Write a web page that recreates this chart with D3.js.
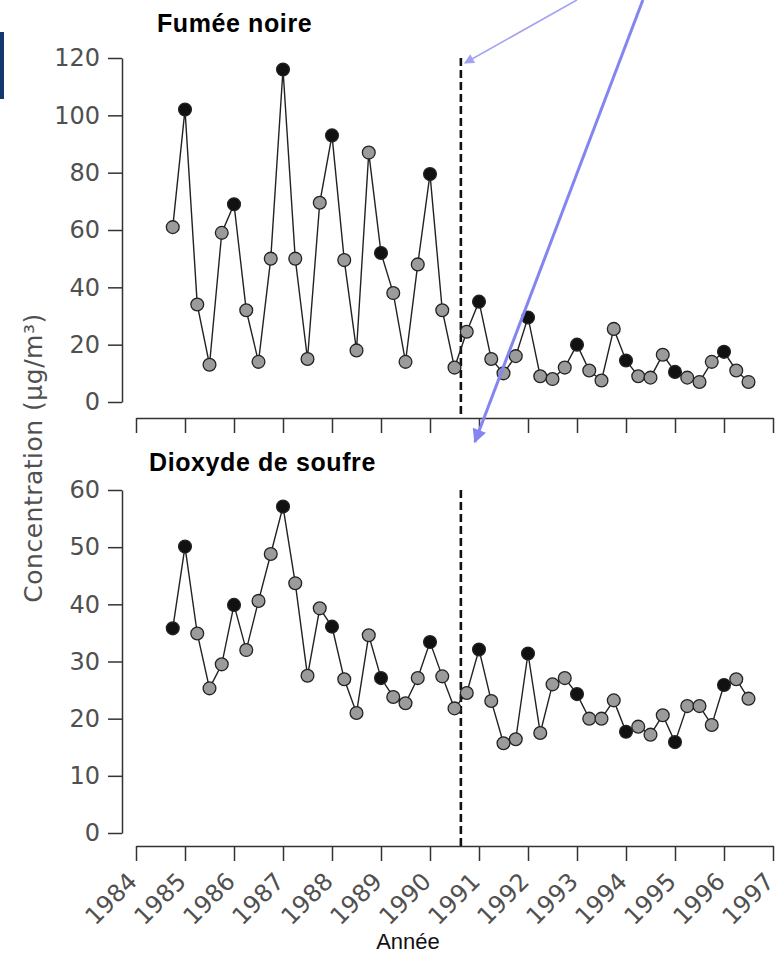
<!DOCTYPE html>
<html>
<head>
<meta charset="utf-8">
<script src="https://cdn.jsdelivr.net/npm/d3@7"></script>
<style>
  body { margin: 0; background: #fff; }
  svg { display: block; }
  .axis path, .axis line { stroke: #333; stroke-width: 1.5; }
  .axis text { font-family: "DejaVu Sans", sans-serif; font-size: 24px; fill: #505050; }
  .title { font-family: "Liberation Sans", Arial, sans-serif; font-weight: bold; font-size: 25px; letter-spacing: 0.6px; fill: #000; }
</style>
</head>
<body>
<svg width="781" height="957"></svg>
<script>
// quarterly dates (decimal year)
var quarters = [
  1984.75,
  1985.0, 1985.25, 1985.5, 1985.75,
  1986.0, 1986.25, 1986.5, 1986.75,
  1987.0, 1987.25, 1987.5, 1987.75,
  1988.0, 1988.25, 1988.5, 1988.75,
  1989.0, 1989.25, 1989.5, 1989.75,
  1990.0, 1990.25, 1990.5, 1990.75,
  1991.0, 1991.25, 1991.5, 1991.75,
  1992.0, 1992.25, 1992.5, 1992.75,
  1993.0, 1993.25, 1993.5, 1993.75,
  1994.0, 1994.25, 1994.5, 1994.75,
  1995.0, 1995.25, 1995.5, 1995.75,
  1996.0, 1996.25, 1996.5
];

// Fumée noire (µg/m3)
var fumeeValues = [
  61,
  102, 34, 13, 59,
  69, 32, 14, 50,
  116, 50, 15, 69.5,
  93, 49.5, 18, 87,
  52, 38, 14, 48,
  79.5, 32, 12, 24.5,
  35, 15, 10, 16,
  29.5, 9, 8, 12,
  20, 11, 7.5, 25.5,
  14.5, 9, 8.5, 16.5,
  10.5, 8.5, 7, 14,
  17.5, 11, 7
];
var fumeeDark = [
  0,
  1, 0, 0, 0,
  1, 0, 0, 0,
  1, 0, 0, 0,
  1, 0, 0, 0,
  1, 0, 0, 0,
  1, 0, 0, 0,
  1, 0, 0, 0,
  1, 0, 0, 0,
  1, 0, 0, 0,
  1, 0, 0, 0,
  1, 0, 0, 0,
  1, 0, 0
];

// Dioxyde de soufre (µg/m3)
var so2Values = [
  35.8,
  50.1, 34.9, 25.3, 29.5,
  39.9, 32.0, 40.6, 48.8,
  57.1, 43.7, 27.5, 39.3,
  36.1, 26.9, 21.0, 34.6,
  27.1, 23.8, 22.7, 27.1,
  33.4, 27.4, 21.8, 24.5,
  32.1, 23.1, 15.7, 16.4,
  31.4, 17.5, 26.0, 27.1,
  24.3, 20.0, 20.0, 23.2,
  17.7, 18.6, 17.2, 20.6,
  15.9, 22.2, 22.2, 18.9,
  25.9, 26.9, 23.5
];
var so2Dark = [
  1,
  1, 0, 0, 0,
  1, 0, 0, 0,
  1, 0, 0, 0,
  1, 0, 0, 0,
  1, 0, 0, 0,
  1, 0, 0, 0,
  1, 0, 0, 0,
  1, 0, 0, 0,
  1, 0, 0, 0,
  1, 0, 0, 0,
  1, 0, 0, 0,
  1, 0, 0
];

var yearTicks = [1984, 1985, 1986, 1987, 1988, 1989, 1990, 1991, 1992, 1993, 1994, 1995, 1996, 1997];
var fumeeTicks = [0, 20, 40, 60, 80, 100, 120];
var so2Ticks = [0, 10, 20, 30, 40, 50, 60];
var changeDate = 1990.63;

var svg = d3.select("svg");

var x = d3.scaleLinear().domain([1984, 1997]).range([136, 773]);
var fill = d3.scaleOrdinal().domain([0, 1]).range(["#9b9b9b", "#111"]);

var panels = [
  {title: "Fumée noire", values: fumeeValues, dark: fumeeDark, ticks: fumeeTicks,
   y: d3.scaleLinear().domain([0, 120]).range([402, 58]), axisY: 418, labels: false, titleY: 32, titleX: 157},
  {title: "Dioxyde de soufre", values: so2Values, dark: so2Dark, ticks: so2Ticks,
   y: d3.scaleLinear().domain([0, 60]).range([833, 490]), axisY: 846, labels: true, titleY: 471, titleX: 149}
];

// blue bar at the left edge
svg.append("rect")
    .attr("x", 0).attr("y", 32).attr("width", 4).attr("height", 67)
    .attr("fill", "#12386f");

panels.forEach(function(p) {
  var data = quarters.map(function(q, i) { return {date: q, value: p.values[i], dark: p.dark[i]}; });

  svg.append("text")
      .attr("class", "title")
      .attr("x", p.titleX)
      .attr("y", p.titleY)
      .text(p.title);

  var yAxis = d3.axisLeft(p.y).tickValues(p.ticks).tickSize(14).tickSizeOuter(0).tickPadding(8);
  svg.append("g")
      .attr("class", "axis")
      .attr("transform", "translate(122,0)")
      .call(yAxis);

  var xAxis = d3.axisBottom(x).tickValues(yearTicks).tickSize(15).tickSizeOuter(0)
      .tickFormat(p.labels ? d3.format("d") : "");
  var gx = svg.append("g")
      .attr("class", "axis")
      .attr("transform", "translate(0," + p.axisY + ")")
      .call(xAxis);

  if (p.labels) {
    gx.selectAll(".tick text")
        .attr("x", 0).attr("y", 0).attr("dy", 0)
        .attr("text-anchor", "end")
        .attr("transform", "translate(2,37) rotate(-45)");
  }

  // dashed line at the change date
  svg.append("line")
      .attr("x1", x(changeDate)).attr("x2", x(changeDate))
      .attr("y1", p.y(p.ticks[p.ticks.length - 1])).attr("y2", p.axisY)
      .attr("stroke", "#111")
      .attr("stroke-width", 2.6)
      .attr("stroke-dasharray", "8,4");

  var line = d3.line()
      .x(function(d) { return x(d.date); })
      .y(function(d) { return p.y(d.value); });

  svg.append("path")
      .datum(data)
      .attr("fill", "none")
      .attr("stroke", "#222")
      .attr("stroke-width", 1.4)
      .attr("d", line);

  svg.append("g").selectAll("circle")
      .data(data)
    .enter().append("circle")
      .attr("cx", function(d) { return x(d.date); })
      .attr("cy", function(d) { return p.y(d.value); })
      .attr("r", 6.4)
      .attr("fill", function(d) { return fill(d.dark); })
      .attr("stroke", "#222")
      .attr("stroke-width", 1.3);
});

// axis titles
svg.append("text")
    .attr("transform", "translate(42,458) rotate(-90)")
    .attr("text-anchor", "middle")
    .style("font-family", "DejaVu Sans, sans-serif")
    .style("font-size", "25px")
    .style("letter-spacing", "0.5px")
    .attr("fill", "#505050")
    .text("Concentration (µg/m³)");

svg.append("text")
    .attr("x", 408)
    .attr("y", 949)
    .attr("text-anchor", "middle")
    .style("font-family", "Liberation Sans, Arial, sans-serif")
    .style("font-size", "22px")
    .attr("fill", "#111")
    .text("Année");

// annotation arrows pointing at the dashed lines
var defs = svg.append("defs");
defs.append("marker")
    .attr("id", "headThin")
    .attr("viewBox", "0 0 10 10")
    .attr("refX", 9).attr("refY", 5)
    .attr("markerWidth", 14).attr("markerHeight", 10)
    .attr("markerUnits", "userSpaceOnUse")
    .attr("orient", "auto")
  .append("path")
    .attr("d", "M0,0L10,5L0,10z")
    .attr("fill", "#a3a3f2");
defs.append("marker")
    .attr("id", "headThick")
    .attr("viewBox", "0 0 10 10")
    .attr("refX", 9).attr("refY", 5)
    .attr("markerWidth", 22).attr("markerHeight", 14)
    .attr("markerUnits", "userSpaceOnUse")
    .attr("orient", "auto")
  .append("path")
    .attr("d", "M0,0L10,5L0,10z")
    .attr("fill", "#8585f2");

var xc = x(changeDate);
svg.append("line")
    .attr("x1", xc + 116).attr("y1", 0)
    .attr("x2", xc + 4).attr("y2", panels[0].y(120) + 5)
    .attr("stroke", "#a3a3f2")
    .attr("stroke-width", 1.6)
    .attr("marker-end", "url(#headThin)");
svg.append("line")
    .attr("x1", xc + 182).attr("y1", 0)
    .attr("x2", xc + 14).attr("y2", panels[0].axisY + 24)
    .attr("stroke", "#8585f2")
    .attr("stroke-width", 3)
    .attr("marker-end", "url(#headThick)");
</script>
</body>
</html>
